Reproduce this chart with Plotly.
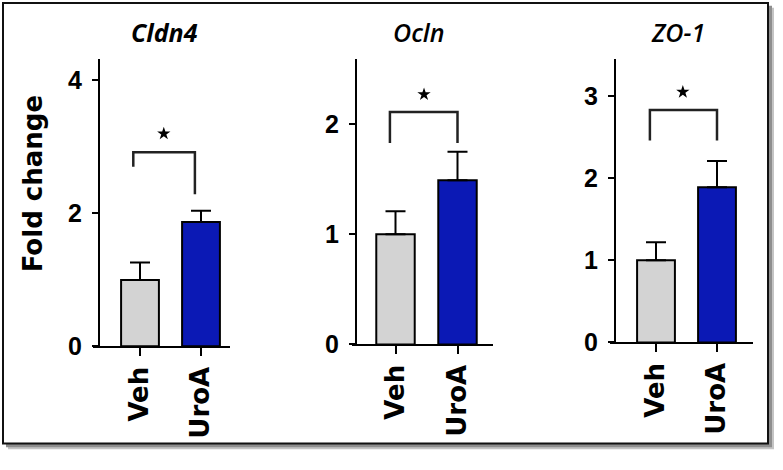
import plotly.graph_objects as go

# ---------------- data ----------------
categories = ["Veh", "UroA"]
genes = ["Cldn4", "Ocln", "ZO-1"]
cldn4_mean = [1.0, 1.87]
cldn4_sem = [0.26, 0.17]
ocln_mean = [1.0, 1.49]
ocln_sem = [0.21, 0.26]
zo1_mean = [1.0, 1.89]
zo1_sem = [0.22, 0.32]
y_max = [4.32, 2.59, 3.45]
y_ticks = [[0, 2, 4], [0, 1, 2], [0, 1, 2, 3]]
bracket_top = [2.92, 2.11, 2.83]
bracket_left_end = [2.70, 1.83, 2.46]
bracket_right_end = [2.29, 1.83, 2.46]
bracket_x = [[-0.11, 0.90], [-0.09, 1.0], [-0.10, 1.0]]
star_x = [0.39, 0.46, 0.44]
star_y = [3.20, 2.27, 3.05]
y_title = "Fold change"

means = [cldn4_mean, ocln_mean, zo1_mean]
sems = [cldn4_sem, ocln_sem, zo1_sem]
bar_colors = ["#d3d3d3", "#0b19b5"]

# ---------------- layout (pixels) ----------------
W, H = 783, 470
panels = [
    dict(x0=93, x1=230, yx=99, zero=357, top=61, c0=140, sp=61, title_x=164, weight=700),
    dict(x0=352, x1=493, yx=356, zero=355, top=61, c0=395.5, sp=62, title_x=418, weight=600),
    dict(x0=610, x1=753, yx=615, zero=353, top=61, c0=656, sp=61, title_x=678, weight=600),
]


def px(x):
    return x / W


def py(y):
    return 1 - y / H


fig = go.Figure()
annotations = []
shapes = []

# frame with soft shadow
shapes.append(dict(type="rect", xref="paper", yref="paper", x0=px(8), x1=px(774), y0=py(463), y1=py(8),
                   fillcolor="#c4c4c4", line=dict(width=0), layer="below"))
shapes.append(dict(type="rect", xref="paper", yref="paper", x0=px(6), x1=px(772), y0=py(461), y1=py(6),
                   fillcolor="#8e8e8e", line=dict(width=0), layer="below"))
shapes.append(dict(type="rect", xref="paper", yref="paper", x0=px(3), x1=px(768), y0=py(457), y1=py(3),
                   fillcolor="white", line=dict(color="#111111", width=2), layer="below"))

for i, p in enumerate(panels):
    n = "" if i == 0 else str(i + 1)
    xa, ya = "x" + n, "y" + n
    fig.add_trace(go.Bar(
        x=[0, 1], y=means[i], width=0.62,
        marker=dict(color=bar_colors, line=dict(color="black", width=2)),
        error_y=dict(type="data", array=sems[i], arrayminus=[0, 0], symmetric=False,
                     color="black", thickness=2, width=10),
        xaxis=xa, yaxis=ya, showlegend=False, hoverinfo="skip"))
    bx = bracket_x[i]
    fig.add_trace(go.Scatter(
        x=[bx[0], bx[0], bx[1], bx[1]],
        y=[bracket_left_end[i], bracket_top[i], bracket_top[i], bracket_right_end[i]],
        mode="lines", line=dict(color="#222222", width=2.5), xaxis=xa, yaxis=ya,
        showlegend=False, hoverinfo="skip"))
    fig.add_trace(go.Scatter(
        x=[star_x[i]], y=[star_y[i]], mode="markers",
        marker=dict(symbol="star", size=10, color="black"),
        xaxis=xa, yaxis=ya, showlegend=False, hoverinfo="skip"))

    xr = [-(p["c0"] - p["x0"]) / p["sp"], 1 + (p["x1"] - (p["c0"] + p["sp"])) / p["sp"]]
    fig.update_layout(**{
        "xaxis" + n: dict(
            domain=[px(p["x0"]), px(p["x1"])], range=xr, anchor=ya,
            tickmode="array", tickvals=[0, 1], ticktext=categories, tickangle=-90,
            ticks="outside", ticklen=8, tickwidth=2, tickcolor="black",
            showline=True, linecolor="black", linewidth=2, showgrid=False, zeroline=False,
            tickfont=dict(family="DejaVu Sans", size=26, color="black", weight="bold"),
            fixedrange=True),
        "yaxis" + n: dict(
            domain=[py(p["zero"]), py(p["top"])], range=[0, y_max[i]], anchor="free",
            position=px(p["yx"]), tickmode="array", tickvals=y_ticks[i],
            ticks="outside", ticklen=6, tickwidth=2, tickcolor="black", ticklabelstandoff=5,
            showline=True, linecolor="black", linewidth=2, showgrid=False, zeroline=False,
            tickfont=dict(family="Liberation Sans", size=25, color="black", weight="bold"),
            fixedrange=True),
    })
    annotations.append(dict(
        text=genes[i], xref="paper", yref="paper", x=px(p["title_x"]), y=py(33),
        xanchor="center", yanchor="middle", showarrow=False,
        font=dict(family="Open Sans", size=25, color="black", style="italic", weight=p["weight"])))

annotations.append(dict(
    text=y_title, xref="paper", yref="paper", x=px(33), y=py(190), textangle=-90,
    xanchor="center", yanchor="middle", showarrow=False,
    font=dict(family="DejaVu Sans", size=26, color="black", weight="bold")))

fig.update_layout(
    width=W, height=H, margin=dict(l=0, r=0, t=0, b=0),
    paper_bgcolor="white", plot_bgcolor="rgba(0,0,0,0)",
    annotations=annotations, shapes=shapes, bargap=0,
)

page_fix = (
    "document.documentElement.style.margin='0';"
    "document.documentElement.style.padding='0';"
    "document.documentElement.style.overflow='hidden';"
    "document.documentElement.style.height='470px';"
    "document.body.style.margin='0';"
    "document.body.style.padding='0';"
    "document.body.style.overflow='hidden';"
    "document.body.style.height='470px';"
)

fig.write_html("out.html", config={"displayModeBar": False, "staticPlot": True},
               post_script=page_fix)
